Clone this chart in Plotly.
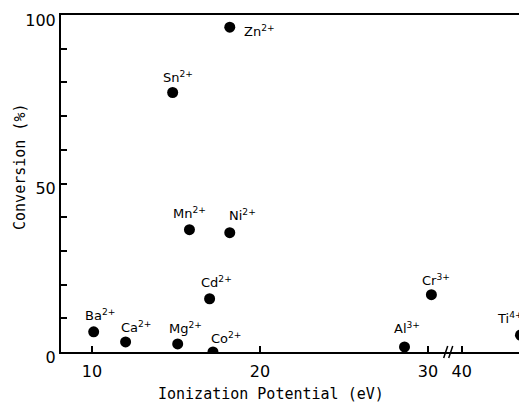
import plotly.graph_objects as go

# ---- data ----
ions = ["Zn", "Sn", "Mn", "Ni", "Cd", "Ba", "Ca", "Mg", "Co", "Al", "Cr", "Ti"]
charges = ["2+", "2+", "2+", "2+", "2+", "2+", "2+", "2+", "2+", "3+", "3+", "4+"]
ionization_ev = [18.2, 14.8, 15.8, 18.2, 17.0, 10.1, 12.0, 15.1, 17.2, 28.6, 30.2, 43.5]
conversion_pct = [96.4, 77.0, 36.3, 35.4, 15.8, 6.0, 3.0, 2.4, 0.0, 1.5, 17.0, 5.0]

x_tick_values = [10, 20, 30, 40]
y_tick_values = list(range(0, 101, 10))
y_tick_labels = ["0" if v == 0 else "50" if v == 50 else "100" if v == 100 else "" for v in y_tick_values]

# label offsets in pixels (layout only)
label_offsets = [(30, -4), (5, 16), (0, 17), (13, 18), (7, 17), (6, 17),
                 (10, 15), (8, 16), (13, 14), (2, 19), (5, 15), (-10, 17)]

# ---- axis break: values above the gap are shifted so 40 sits just after 30 ----
BREAK_LO, BREAK_HI, GAP = 30.0, 40.0, 2.0


def brk(v):
    return v - (BREAK_HI - BREAK_LO - GAP) if v >= BREAK_HI else v


xs = [brk(v) for v in ionization_ev]

FONT = "DejaVu Sans"
TITLE_FONT = "DejaVu Sans Mono"
fig = go.Figure()
fig.add_trace(go.Scatter(
    x=xs, y=conversion_pct, mode="markers",
    marker=dict(size=11, color="black"),
    hoverinfo="skip", showlegend=False,
))

for xv, yv, ion, ch, (dx, dy) in zip(xs, conversion_pct, ions, charges, label_offsets):
    fig.add_annotation(
        x=xv, y=yv, xref="x", yref="y",
        text=f"{ion}<sup>{ch}</sup>", showarrow=False,
        xshift=dx, yshift=dy,
        font=dict(family=FONT, size=13, color="black"),
    )

# break marks "//" on x-axis
bx = brk(BREAK_LO) + GAP * 0.6
for off in (-0.15, 0.15):
    fig.add_shape(type="line", xref="x", yref="paper",
                  x0=bx + off - 0.12, x1=bx + off + 0.12, y0=-0.018, y1=0.018,
                  line=dict(color="black", width=1.5))

fig.update_xaxes(
    range=[8.155, 35.89], automargin=False, ticklabeloverflow="allow",
    tickvals=[brk(v) for v in x_tick_values],
    ticktext=[str(v) for v in x_tick_values],
    ticks="inside", ticklen=6, tickwidth=1.5, tickcolor="black",
    showline=True, linecolor="black", linewidth=2, mirror=True,
    showgrid=False, zeroline=False,
    tickfont=dict(family=FONT, size=16, color="black"),
    ticklabelstandoff=4,
)
fig.update_yaxes(
    range=[0, 100], automargin=False, ticklabeloverflow="allow",
    tickvals=y_tick_values, ticktext=y_tick_labels,
    ticks="inside", ticklen=6, tickwidth=1.5, tickcolor="black",
    showline=True, linecolor="black", linewidth=2,
    showgrid=False, zeroline=False,
    tickfont=dict(family=FONT, size=16, color="black"),
    ticklabelshift=5,
)

fig.add_annotation(x=0.45, y=-0.125, xref="paper", yref="paper",
                   text="Ionization Potential (eV)", showarrow=False,
                   xanchor="center", yanchor="middle",
                   font=dict(family=TITLE_FONT, size=15, color="black"))
fig.add_annotation(x=-0.088, y=0.549, xref="paper", yref="paper",
                   text="Conversion (%)", showarrow=False, textangle=-90,
                   xanchor="center", yanchor="middle",
                   font=dict(family=TITLE_FONT, size=15, color="black"))

# the page body has an 8px margin, so the figure is sized/offset to compensate
fig.update_layout(
    width=519, height=394,
    margin=dict(l=53, r=0, t=7, b=50),
    paper_bgcolor="white", plot_bgcolor="white",
)

fig.write_html("out.html")
